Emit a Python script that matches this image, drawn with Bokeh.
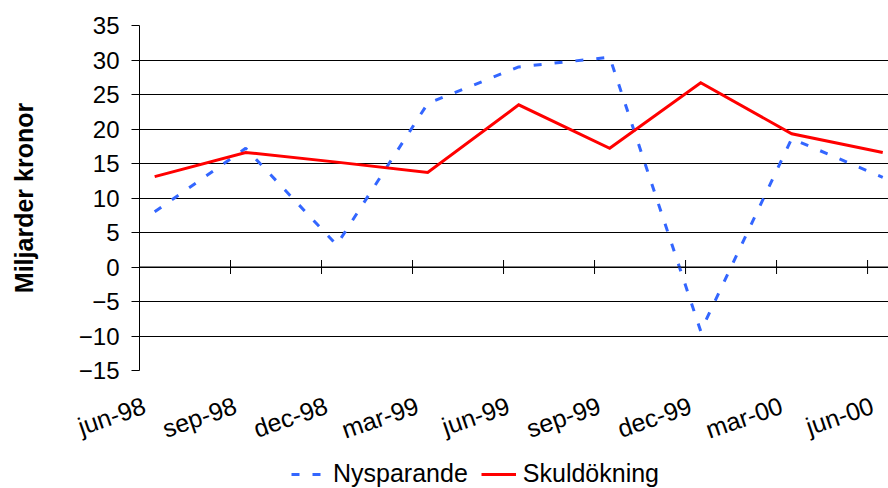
import math
from bokeh.plotting import figure
from bokeh.layouts import column
from bokeh.models import Range1d, FixedTicker, Legend, LegendItem, Span
from bokeh.embed import file_html
from bokeh.resources import INLINE

# ---- data ----
quarters = ["jun-98", "sep-98", "dec-98", "mar-99", "jun-99",
            "sep-99", "dec-99", "mar-00", "jun-00"]
nysparande = [8.0, 17.2, 3.2, 23.7, 29.0, 30.4, -9.3, 18.6, 13.0]
skuldokning = [13.1, 16.6, 15.2, 13.7, 23.5, 17.2, 26.7, 19.3, 16.6]
y_ticks = [-15, -10, -5, 0, 5, 10, 15, 20, 25, 30, 35]
series_names = ["Nysparande", "Skuldökning"]
series_values = [nysparande, skuldokning]
series_colors = ["#3366FF", "#FF0000"]
series_dash = ["8 13", "solid"]

MONTHS = {"jan": 1, "feb": 2, "mar": 3, "apr": 4, "maj": 5, "jun": 6,
          "jul": 7, "aug": 8, "sep": 9, "okt": 10, "nov": 11, "dec": 12}


def month_number(label):
    m, y = label.split("-")
    yy = int(y)
    year = 1900 + yy if yy > 50 else 2000 + yy
    return year * 12 + MONTHS[m]


base = month_number(quarters[0])
slot_start = [month_number(q) - base for q in quarters]   # month slot start (tick position)
x_pts = [s + 0.5 for s in slot_start]                      # point at centre of its month slot
label_shift = 0.165                                         # small visual offset of rotated labels
label_pos = [s + label_shift for s in slot_start]

FONT = "Liberation Sans"

p = figure(width=888, height=460, output_backend="svg", toolbar_location=None,
           x_range=Range1d(0, 24.69), y_range=Range1d(-15, 35),
           min_border_left=139, min_border_right=0, min_border_top=25,
           min_border_bottom=90)
p.outline_line_color = None
p.background_fill_color = "white"
p.border_fill_color = "white"

# grid
p.xgrid.visible = False
p.ygrid.ticker = FixedTicker(ticks=y_ticks)
p.ygrid.grid_line_color = "black"
p.ygrid.grid_line_width = 1

# y axis
ya = p.yaxis[0]
ya.ticker = FixedTicker(ticks=y_ticks)
ya.major_tick_in = 0
ya.major_tick_out = 8
ya.minor_tick_line_color = None
ya.axis_line_color = "black"
ya.major_tick_line_color = "black"
ya.major_label_text_font = FONT
ya.major_label_text_font_size = "24px"
ya.major_label_text_color = "black"
ya.major_label_standoff = 12
ya.axis_label = "Miljarder kronor"
ya.axis_label_text_font = FONT
ya.axis_label_text_font_size = "25px"
ya.axis_label_text_font_style = "bold"
ya.axis_label_text_color = "black"
ya.axis_label_standoff = 38

# x label axis (bottom, labels only)
xa = p.xaxis[0]
xa.ticker = FixedTicker(ticks=label_pos)
xa.major_label_overrides = {lp: q for lp, q in zip(label_pos, quarters)}
xa.axis_line_color = None
xa.major_tick_line_color = None
xa.minor_tick_line_color = None
xa.major_tick_in = 0
xa.major_tick_out = 0
xa.major_label_orientation = math.radians(19)
xa.major_label_text_font = FONT
xa.major_label_text_font_size = "25px"
xa.major_label_text_color = "black"
xa.major_label_standoff = 34

# category axis line crossing at y = 0, with cross tick marks
p.add_layout(Span(location=0, dimension="width", line_color="black", line_width=1))
p.scatter(slot_start, [0] * len(slot_start), marker="dash", angle=math.pi / 2,
          size=14, line_color="black", line_width=1)

for vals, col, dash in zip(series_values, series_colors, series_dash):
    p.line(x_pts, vals, line_color=col, line_width=3, line_dash=dash,
           line_join="miter" if dash == "solid" else "bevel")

# ---- legend strip below the chart ----
lg = figure(width=888, height=28, output_backend="svg", toolbar_location=None,
            x_range=Range1d(0, 1), y_range=Range1d(1000, 1001),
            min_border_left=0, min_border_right=0, min_border_top=0,
            min_border_bottom=0)
lg.axis.visible = False
lg.grid.visible = False
lg.outline_line_color = None
lg.background_fill_color = "white"
lg.border_fill_color = "white"
items = []
for name, vals, col, dash in zip(series_names, series_values, series_colors, series_dash):
    # proxy renderer for the legend key (its data lies outside this strip's range)
    r = lg.line(x=x_pts, y=vals, line_color=col, line_width=3, line_dash=dash)
    items.append(LegendItem(label=name, renderers=[r]))
legend = Legend(items=items, location=(152, 0), orientation="horizontal",
                label_text_font=FONT, label_text_font_size="25px",
                label_text_color="black",
                glyph_width=35, glyph_height=20, label_standoff=7, spacing=13,
                padding=0, margin=0, border_line_color=None,
                background_fill_alpha=0)
lg.add_layout(legend, "center")

layout = column(p, lg, spacing=0)
open("out.html", "w").write(file_html(layout, INLINE))
